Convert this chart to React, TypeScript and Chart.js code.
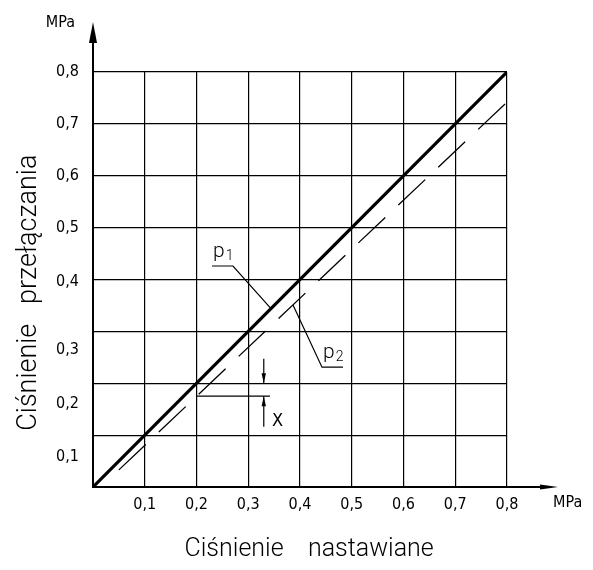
import { useEffect, useRef } from 'react';
import { Chart, registerables } from 'chart.js';

Chart.register(...registerables);

// ---- data (MPa) ----
const gridValues = [0, 0.1, 0.2, 0.3, 0.4, 0.5, 0.6, 0.7, 0.8];
const xTickLabels = ['', '0,1', '0,2', '0,3', '0,4', '0,5', '0,6', '0,7', '0,8'];
const yTickPositions = [0.058, 0.16, 0.264, 0.395, 0.5, 0.6, 0.7, 0.8];
const yTickLabels = ['0,1', '0,2', '0,3', '0,4', '0,5', '0,6', '0,7', '0,8'];

const p1X = [0, 0.8];
const p1Y = [0, 0.8];
const p2X = [0.05, 0.8];
const p2Y = [0.033, 0.742];

const p1LeaderX = [0.23, 0.2705, 0.344];
const p1LeaderY = [0.426, 0.426, 0.344];
const p2LeaderX = [0.483, 0.4425, 0.3865];
const p2LeaderY = [0.231, 0.231, 0.351];

const gapLineX = [0.2, 0.342];
const gapLineY = [0.175, 0.175];
const gapArrowTopX = [0.33, 0.33];
const gapArrowTopY = [0.247, 0.2];
const gapArrowBottomX = [0.33, 0.33];
const gapArrowBottomY = [0.116, 0.175];

const calloutNames = ['p', 'p'];
const calloutSubs = ['1', '2'];
const calloutX = [0.23, 0.4425];
const calloutY = [0.426, 0.231];
const gapLabel = 'X';
const gapLabelX = 0.346;
const gapLabelY = 0.118;

const axisArrowX = 0.8986;
const axisArrowY = 0.8964;
const unitLabel = 'MPa';
const xTitle = '   Ciśnienie    nastawiane';
const yTitle = 'Ciśnienie   przełączania    ';

const NARROW = '"Liberation Sans Narrow", "DejaVu Sans Condensed", "Liberation Sans", sans-serif';
const THIN = 'Roboto, "DejaVu Sans", sans-serif';

const pts = (xs: number[], ys: number[]) => xs.map((x, i) => ({ x, y: ys[i] }));

const overlayPlugin = {
  id: 'overlay',
  afterDatasetsDraw(chart: any) {
    const ctx = chart.ctx;
    const xs = chart.scales.x;
    const ys = chart.scales.y;
    const area = chart.chartArea;
    ctx.save();
    ctx.fillStyle = '#000';
    ctx.strokeStyle = '#000';

    // arrowheads on datasets flagged with arrow
    chart.data.datasets.forEach((ds: any) => {
      if (!ds.arrow) return;
      const d = ds.data;
      const a = d[d.length - 2];
      const b = d[d.length - 1];
      const ax = xs.getPixelForValue(a.x), ay = ys.getPixelForValue(a.y);
      const bx = xs.getPixelForValue(b.x), by = ys.getPixelForValue(b.y);
      const ang = Math.atan2(by - ay, bx - ax);
      const len = 10, hw = 2.2;
      ctx.beginPath();
      ctx.moveTo(bx, by);
      ctx.lineTo(bx - len * Math.cos(ang) - hw * Math.sin(ang), by - len * Math.sin(ang) + hw * Math.cos(ang));
      ctx.lineTo(bx - len * Math.cos(ang) + hw * Math.sin(ang), by - len * Math.sin(ang) - hw * Math.cos(ang));
      ctx.closePath();
      ctx.fill();
    });

    // axis extensions with arrows
    const x0 = xs.getPixelForValue(0);
    const y0 = ys.getPixelForValue(0);
    const yTip = ys.getPixelForValue(axisArrowY);
    const xTip = xs.getPixelForValue(axisArrowX);
    ctx.lineWidth = 2;
    ctx.beginPath();
    ctx.moveTo(x0, area.top);
    ctx.lineTo(x0, yTip + 10);
    ctx.moveTo(area.right, y0);
    ctx.lineTo(xTip - 8, y0);
    ctx.stroke();
    ctx.beginPath();
    ctx.moveTo(x0, yTip);
    ctx.lineTo(x0 - 4, yTip + 21);
    ctx.lineTo(x0 + 4, yTip + 21);
    ctx.closePath();
    ctx.fill();
    ctx.beginPath();
    ctx.moveTo(xTip, y0);
    ctx.lineTo(xTip - 18, y0 - 2.6);
    ctx.lineTo(xTip - 18, y0 + 2.6);
    ctx.closePath();
    ctx.fill();

    // unit labels
    ctx.font = '16px ' + NARROW;
    ctx.textBaseline = 'alphabetic';
    ctx.textAlign = 'right';
    ctx.fillText(unitLabel, x0 - 18, yTip + 5);
    ctx.textAlign = 'left';
    ctx.fillText(unitLabel, xTip - 5, y0 + 20);

    // callout labels p1, p2
    calloutNames.forEach((name, i) => {
      const lx = xs.getPixelForValue(calloutX[i]);
      const ly = ys.getPixelForValue(calloutY[i]);
      ctx.textAlign = 'left';
      ctx.font = '300 21px ' + THIN;
      ctx.fillText(name, lx + 1, ly - 9.5);
      const w = ctx.measureText(name).width;
      ctx.font = '300 14px ' + THIN;
      ctx.fillText(calloutSubs[i], lx + 1 + w + 1, ly - 6);
    });

    // gap label X
    ctx.font = '18px ' + NARROW;
    ctx.textAlign = 'left';
    ctx.fillText(gapLabel, xs.getPixelForValue(gapLabelX), ys.getPixelForValue(gapLabelY));
    ctx.restore();
  },
};

export default function App() {
  const ref = useRef<HTMLCanvasElement | null>(null);
  useEffect(() => {
    if (!ref.current) return;
    const lineDs = (xs: number[], ys: number[], width: number, extra: any = {}) => ({
      data: pts(xs, ys),
      borderColor: '#000',
      backgroundColor: '#000',
      borderWidth: width,
      pointRadius: 0,
      tension: 0,
      fill: false,
      borderCapStyle: 'butt',
      ...extra,
    });
    const chart = new Chart(ref.current, {
      type: 'line',
      data: {
        datasets: [
          lineDs(p1X, p1Y, 3.2),
          lineDs(p2X, p2Y, 1.3, { borderDash: [37, 18] }),
          lineDs(p1LeaderX, p1LeaderY, 1.2),
          lineDs(p2LeaderX, p2LeaderY, 1.2),
          lineDs(gapLineX, gapLineY, 1.3),
          lineDs(gapArrowTopX, gapArrowTopY, 1.2, { arrow: true }),
          lineDs(gapArrowBottomX, gapArrowBottomY, 1.2, { arrow: true }),
        ] as any,
      },
      options: {
        animation: false,
        responsive: false,
        events: [],
        layout: { padding: { left: 0, right: 86, top: 72, bottom: 0 } },
        plugins: { legend: { display: false }, tooltip: { enabled: false } },
        scales: {
          x: {
            type: 'linear',
            min: 0,
            max: 0.8,
            afterBuildTicks: (s: any) => { s.ticks = gridValues.map((v) => ({ value: v })); },
            afterFit: (s: any) => { s.height = 83; },
            grid: { color: '#000', lineWidth: 1.2, drawTicks: false },
            border: { display: true, color: '#000', width: 2 },
            ticks: {
              autoSkip: false,
              maxRotation: 0,
              padding: 8,
              color: '#000',
              font: { family: NARROW, size: 16 },
              callback: (_v: any, i: number) => xTickLabels[i],
            },
            title: {
              display: true,
              text: xTitle,
              color: '#000',
              font: { family: THIN, size: 25, weight: '300' as any },
              padding: { top: 0, bottom: 5 },
            },
          },
          y: {
            type: 'linear',
            position: 'left',
            weight: 0,
            min: 0,
            max: 0.8,
            afterBuildTicks: (s: any) => { s.ticks = gridValues.map((v) => ({ value: v })); },
            afterFit: (s: any) => { s.width = 0; },
            grid: { color: '#000', lineWidth: 1.2, drawTicks: false },
            border: { display: true, color: '#000', width: 2 },
            ticks: { display: false },
          },
          yl: {
            type: 'linear',
            position: 'left',
            weight: 1,
            min: 0,
            max: 0.8,
            afterBuildTicks: (s: any) => { s.ticks = yTickPositions.map((v) => ({ value: v })); },
            afterFit: (s: any) => { s.width = 93; },
            grid: { display: false, drawTicks: false },
            border: { display: false },
            ticks: {
              autoSkip: false,
              padding: 14,
              color: '#000',
              font: { family: NARROW, size: 16 },
              callback: (_v: any, i: number) => yTickLabels[i],
            },
            title: {
              display: true,
              text: yTitle,
              color: '#000',
              font: { family: THIN, size: 27, weight: '300' as any },
              padding: { top: 13, bottom: 0 },
            },
          },
        },
      } as any,
      plugins: [overlayPlugin],
    });
    return () => chart.destroy();
  }, []);
  return (
    <div style={{ position: 'fixed', left: 0, top: 0, width: 593, height: 570, background: '#fff' }}>
      <canvas ref={ref} width={593} height={570} />
    </div>
  );
}
